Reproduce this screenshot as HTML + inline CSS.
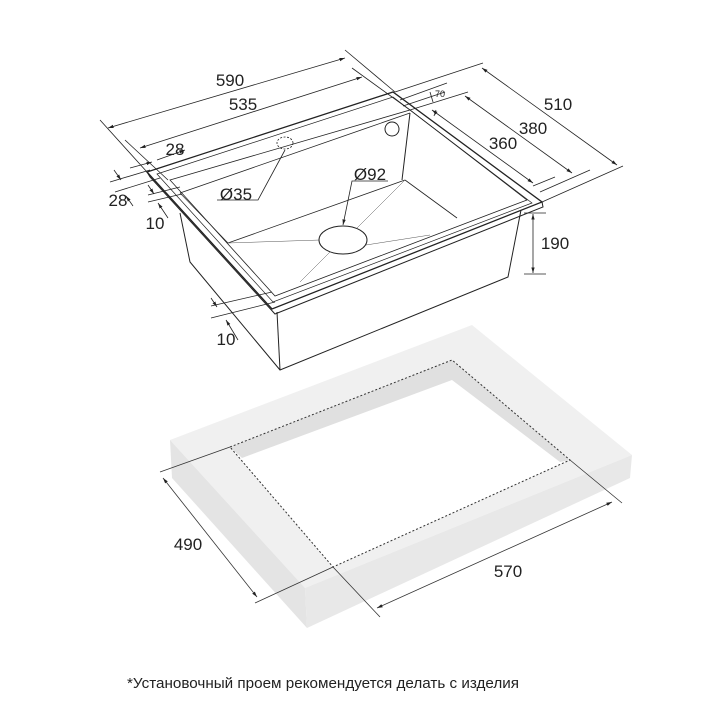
<!DOCTYPE html>
<html><head><meta charset="utf-8"><style>
html,body{margin:0;padding:0;background:#fff}
svg{display:block}
text{font-family:"Liberation Sans",sans-serif;fill:#222}
</style></head><body>
<svg width="720" height="720" viewBox="0 0 720 720" xmlns="http://www.w3.org/2000/svg">
<defs>
<marker id="a" viewBox="0 0 10 10" refX="10" refY="5" markerWidth="7" markerHeight="7" orient="auto-start-reverse"><path d="M0,2 L10,5 L0,8 z" fill="#222"/></marker>
</defs>
<g>
<polygon points="170,440 472,325 632,455 305,588" fill="#f0f0f0"/>
<polygon points="170,440 305,588 307,628 172,478" fill="#e4e4e4"/>
<polygon points="305,588 632,455 630,478 307,628" fill="#e8e8e8"/>
<polygon points="230,447 452,360 570,460 333,567" fill="#fff"/>
<polygon points="230,447 452,360 452,380 242,458" fill="#e0e0e0"/>
<polygon points="452,360 570,460 560,462 452,380" fill="#e0e0e0"/>
<polygon points="230,447 452,360 570,460 333,567" fill="none" stroke="#333" stroke-width="1" stroke-dasharray="2,2"/>
</g>
<g stroke="#333" stroke-width="0.8" fill="none">
<line x1="230" y1="447" x2="160" y2="472"/>
<line x1="333" y1="567" x2="255" y2="603"/>
<line x1="333" y1="567" x2="380" y2="617"/>
<line x1="570" y1="460" x2="622" y2="503"/>
<line x1="163" y1="478" x2="257" y2="597" marker-start="url(#a)" marker-end="url(#a)"/>
<line x1="377" y1="608" x2="612" y2="502" marker-start="url(#a)" marker-end="url(#a)"/>
</g>
<g stroke="#222" stroke-width="1" fill="none">
<polyline points="180,213 190,262 280,370 508,277 521,210"/>
<line x1="277" y1="312" x2="280" y2="370"/>
<polygon points="147,172 393,92 542,202 272,309" stroke-width="1.3"/>
<polyline points="147,172 150,177 275,314 543,207 542,202"/>
<polygon points="157,174 393,97 532,203 273,302" stroke-width="0.7"/>
<polygon points="170,180 410,110 527,200 275,296" stroke-width="0.8"/>
<polyline points="180,193 410,113" stroke-width="0.8"/>
<polyline points="410,113 402,180"/>
<line x1="228" y1="243" x2="405" y2="180" stroke-width="0.8"/>
<line x1="405" y1="180" x2="457" y2="218" stroke-width="0.8"/>
<line x1="180" y1="193" x2="228" y2="243" stroke-width="0.6"/>
<g stroke-width="0.5" stroke="#555">
<line x1="228" y1="243" x2="320" y2="240"/>
<line x1="405" y1="180" x2="355" y2="230"/>
<line x1="366" y1="245" x2="430" y2="235"/>
<line x1="330" y1="252" x2="300" y2="282"/>
</g>
<ellipse cx="343" cy="240" rx="24" ry="14" fill="#fff"/>
<ellipse cx="285" cy="143" rx="8" ry="6" stroke-dasharray="2,1.5" stroke-width="0.8"/>
<circle cx="392" cy="129" r="7"/>
</g>
<g stroke="#222" stroke-width="0.8" fill="none">
<line x1="147" y1="172" x2="100" y2="120"/>
<line x1="395" y1="92" x2="345" y2="50"/>
<line x1="108" y1="128" x2="345" y2="58" marker-start="url(#a)" marker-end="url(#a)"/>
<line x1="168" y1="180" x2="125" y2="140"/>
<line x1="410" y1="110" x2="352" y2="68"/>
<line x1="140" y1="148" x2="362" y2="77" marker-start="url(#a)" marker-end="url(#a)"/>
<line x1="157" y1="160" x2="185" y2="150" marker-end="url(#a)"/>
<line x1="130" y1="168" x2="152" y2="162" marker-end="url(#a)"/>
<line x1="110" y1="182" x2="150" y2="170"/>
<line x1="115" y1="192" x2="160" y2="178"/>
<line x1="114" y1="170" x2="121" y2="180" marker-end="url(#a)"/>
<line x1="133" y1="206" x2="126" y2="196" marker-end="url(#a)"/>
<line x1="148" y1="195" x2="180" y2="187"/>
<line x1="148" y1="202" x2="182" y2="194"/>
<line x1="148" y1="185" x2="154" y2="194" marker-end="url(#a)"/>
<line x1="168" y1="218" x2="158" y2="203" marker-end="url(#a)"/>
<line x1="211" y1="306" x2="272" y2="292"/>
<line x1="211" y1="318" x2="275" y2="302"/>
<line x1="211" y1="298" x2="217" y2="307" marker-end="url(#a)"/>
<line x1="238" y1="340" x2="226" y2="320" marker-end="url(#a)"/>
<line x1="395" y1="92" x2="483" y2="63"/>
<line x1="400" y1="100" x2="447" y2="83"/>
<line x1="410" y1="110" x2="468" y2="92"/>
<line x1="403" y1="106" x2="445" y2="92"/>
<line x1="430" y1="92" x2="433" y2="102"/>
<line x1="434" y1="116" x2="436" y2="110"/>
<line x1="542" y1="202" x2="623" y2="166"/>
<line x1="540" y1="192" x2="590" y2="170"/>
<line x1="533" y1="186" x2="555" y2="177"/>
<line x1="482" y1="68" x2="617" y2="165" marker-start="url(#a)" marker-end="url(#a)"/>
<line x1="465" y1="96" x2="572" y2="173" marker-start="url(#a)" marker-end="url(#a)"/>
<line x1="432" y1="110" x2="533" y2="183" marker-start="url(#a)" marker-end="url(#a)"/>
<line x1="524" y1="213" x2="546" y2="213"/>
<line x1="524" y1="274" x2="546" y2="274"/>
<line x1="533" y1="214" x2="533" y2="273" marker-start="url(#a)" marker-end="url(#a)"/>
<polyline points="217,200 258,200 285,150" />
<polyline points="388,181 352,181 343,225" marker-end="url(#a)"/>
</g>
<g font-size="17">
<text x="230" y="86" text-anchor="middle">590</text>
<text x="243" y="110" text-anchor="middle">535</text>
<text x="175" y="155" text-anchor="middle">28</text>
<text x="118" y="206" text-anchor="middle">28</text>
<text x="155" y="229" text-anchor="middle">10</text>
<text x="236" y="200" text-anchor="middle">Ø35</text>
<text x="370" y="180" text-anchor="middle">Ø92</text>
<text x="226" y="345" text-anchor="middle">10</text>
<text x="558" y="110" text-anchor="middle">510</text>
<text x="533" y="134" text-anchor="middle">380</text>
<text x="503" y="149" text-anchor="middle">360</text>
<text x="555" y="249" text-anchor="middle">190</text>
<text x="188" y="550" text-anchor="middle">490</text>
<text x="508" y="577" text-anchor="middle">570</text>
</g>
<text x="440" y="97" font-size="9" text-anchor="middle">70</text>
<text x="127" y="688" font-size="14.5" textLength="392" lengthAdjust="spacingAndGlyphs">*Установочный проем рекомендуется делать с изделия</text>
</svg>
</body></html>
